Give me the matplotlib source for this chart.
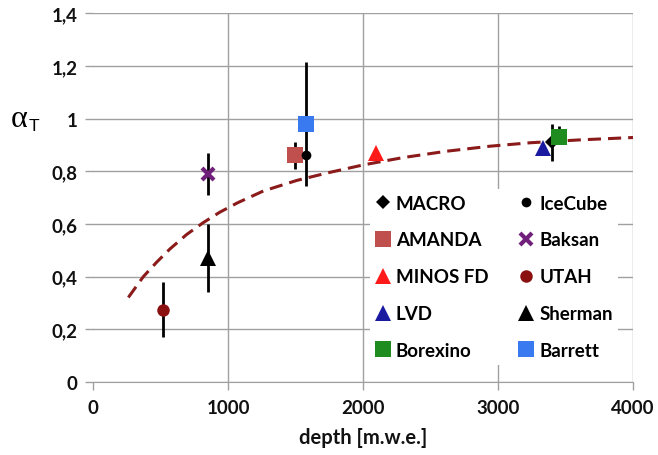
import matplotlib.pyplot as plt

plt.rcParams['font.family'] = ['Lato', 'DejaVu Sans']
plt.rcParams['font.weight'] = 'bold'

# measured alpha_T vs depth
names = ['MACRO', 'AMANDA', 'MINOS FD', 'LVD', 'Borexino',
         'IceCube', 'Baksan', 'UTAH', 'Sherman', 'Barrett']
depth = [3400, 1500, 2100, 3330, 3450, 1580, 850, 515, 855, 1580]
alpha = [0.91, 0.86, 0.87, 0.89, 0.93, 0.86, 0.79, 0.275, 0.47, 0.98]
err_lo = [0.07, 0.05, 0.0, 0.0, 0.0, 0.115, 0.08, 0.105, 0.13, 0.0]
err_hi = [0.07, 0.05, 0.0, 0.0, 0.04, 0.355, 0.08, 0.105, 0.13, 0.0]

markers = ['D', 's', '^', '^', 's', 'o', 'x', 'o', '^', 's']
colors = ['black', '#c0504d', '#ff1a1a', '#1a1aa0', '#1e8c1e',
          'black', '#70207a', '#8b1010', 'black', '#3a7af0']
sizes = [7, 11, 12, 12, 11, 7, 9, 9, 11, 11]

# fitted curve
curve_x = [262, 373, 472, 570, 694, 817, 941, 1070, 1262, 1509, 1731, 2002,
           2150, 2299, 2620, 2941, 3237, 3607, 4000]
curve_y = [0.321, 0.400, 0.455, 0.505, 0.560, 0.605, 0.645, 0.680, 0.725, 0.765,
           0.793, 0.824, 0.838, 0.852, 0.876, 0.895, 0.908, 0.919, 0.928]

yticks = [0, 0.2, 0.4, 0.6, 0.8, 1.0, 1.2, 1.4]
ytick_labels = ['0', '0,2', '0,4', '0,6', '0,8', '1', '1,2', '1,4']
xticks = [0, 1000, 2000, 3000, 4000]

fig = plt.figure(figsize=(6.58, 4.56), dpi=100)
ax = fig.add_axes([0.1413, 0.160, 0.8207, 0.809])

ax.plot(curve_x, curve_y, color='#8b1a1a', linewidth=2.2, dashes=(4.3, 2.3), zorder=2)

ax.errorbar(depth, alpha, yerr=[err_lo, err_hi], fmt='none', ecolor='black',
            elinewidth=2, capsize=0, zorder=3)

for i in range(len(names)):
    mew = 3 if markers[i] == 'x' else 0
    ax.plot(depth[i], alpha[i], linestyle='none', marker=markers[i], color=colors[i],
            markersize=sizes[i], markeredgewidth=mew, label=names[i], zorder=4)

ax.set_xlim(0, 4000)
ax.set_ylim(0, 1.4)
ax.set_xticks(xticks)
ax.set_yticks(yticks)
ax.set_yticklabels(ytick_labels)
ax.tick_params(axis='both', colors='#a0a0a0', labelcolor='#111111', labelsize=13.5,
               length=6, width=1)
ax.tick_params(axis='x', pad=6)
ax.tick_params(axis='y', pad=5)

ax.grid(True, color='#a0a0a0', linewidth=1)
ax.set_axisbelow(True)
ax.get_xgridlines()[0].set_visible(False)
for side in ['left', 'top', 'right']:
    ax.spines[side].set_visible(False)
ax.spines['bottom'].set_color('#a0a0a0')

ax.set_xlabel('depth [m.w.e.]', fontsize=14.5, fontweight='bold', labelpad=8,
              color='#111111')

# y label: alpha with sans subscript T
fig.text(0.017, 0.7215, '\u03b1', fontsize=23, fontweight='normal',
         family='Liberation Serif', va='baseline', ha='left')
fig.text(0.043, 0.7127, 'T', fontsize=12.5, fontweight='normal',
         family='Liberation Sans', va='baseline', ha='left')

leg = ax.legend(ncol=2, loc='upper left', bbox_to_anchor=(0.495, 0.549), fontsize=13.5,
                frameon=True, framealpha=1, edgecolor='white', fancybox=False,
                handlelength=0.8, handletextpad=0.3, labelspacing=1.06,
                columnspacing=1.6, borderpad=0.3)
leg.get_frame().set_linewidth(0)
for t in leg.get_texts():
    t.set_fontweight('bold')

plt.savefig('out.png')
